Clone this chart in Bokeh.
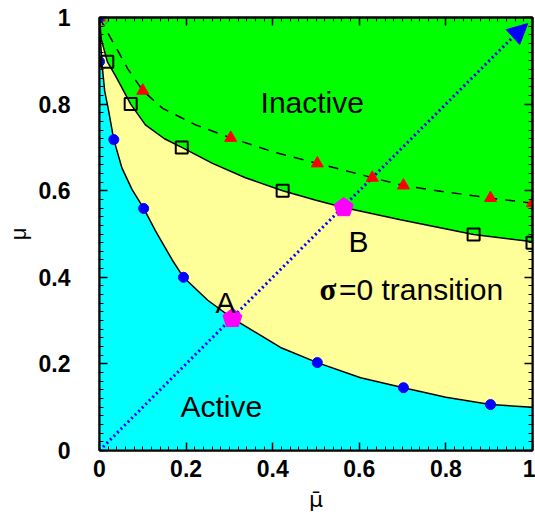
from bokeh.plotting import figure
from bokeh.models import Range1d, LinearAxis, FixedTicker, Label, Arrow, NormalHead
from bokeh.embed import file_html
from bokeh.resources import INLINE
import math

# ---- data ----
upper_x = [0, 0.004, 0.018, 0.037, 0.072, 0.106, 0.15, 0.19, 0.261, 0.337, 0.423, 0.5, 0.564, 0.695, 0.864, 1.0]
upper_y = [1.0, 0.95, 0.898, 0.865, 0.80, 0.752, 0.72, 0.70, 0.663, 0.630, 0.60, 0.578, 0.561, 0.533, 0.499, 0.482]

lower_x = [0, 0.002, 0.006, 0.012, 0.021, 0.033, 0.052, 0.075, 0.102, 0.129, 0.168, 0.194, 0.25, 0.307,
           0.418, 0.503, 0.603, 0.702, 0.80, 0.903, 1.0]
lower_y = [1.0, 0.95, 0.89, 0.83, 0.785, 0.718, 0.652, 0.603, 0.559, 0.508, 0.44, 0.40, 0.347, 0.305,
           0.238, 0.203, 0.168, 0.145, 0.123, 0.106, 0.10]

dashed_x = [0, 0.02, 0.042, 0.065, 0.1, 0.146, 0.222, 0.303, 0.4, 0.503, 0.573, 0.63, 0.702, 0.8, 0.903, 1.0]
dashed_y = [1.0, 0.963, 0.924, 0.882, 0.831, 0.79, 0.752, 0.722, 0.69, 0.663, 0.645, 0.63, 0.612, 0.597, 0.583, 0.571]

dots_x = [0, 0.033, 0.102, 0.194, 0.503, 0.702, 0.903]
dots_y = [0.898, 0.718, 0.559, 0.40, 0.203, 0.145, 0.106]

squares_x = [0.018, 0.072, 0.19, 0.423, 0.864, 1.0]
squares_y = [0.898, 0.80, 0.70, 0.60, 0.499, 0.48]

tri_x = [0, 0.1, 0.303, 0.503, 0.63, 0.702, 0.903, 1.0]
tri_y = [1.0, 0.831, 0.722, 0.663, 0.63, 0.612, 0.583, 0.571]

corner_x = [0.0]
corner_y = [1.0]

pent_x = [0.307, 0.564]
pent_y = [0.305, 0.561]

diag_x = [0.0, 0.975]
diag_y = [0.0, 0.975]
arrow_tip = (0.989, 0.986)

tick_vals = [0, 0.2, 0.4, 0.6, 0.8, 1.0]
tick_labels = ["0", "0.2", "0.4", "0.6", "0.8", "1"]

# ---- figure ----
FONT = "Liberation Sans"
FRAME = 433.0
p = figure(width=535, height=518, x_range=Range1d(0, 1), y_range=Range1d(0, 1),
           output_backend="svg", toolbar_location=None,
           min_border_left=99, min_border_right=3, min_border_top=17, min_border_bottom=68,
           background_fill_color="#00FF00", border_fill_color="white")
p.xgrid.visible = False
p.ygrid.visible = False
p.outline_line_color = "black"
p.outline_line_width = 2

minor = [i * 0.02 for i in range(51)]


def style_axis(ax, labels=True):
    ax.ticker = FixedTicker(ticks=tick_vals, minor_ticks=minor)
    ax.axis_line_width = 2
    ax.axis_line_color = "black"
    ax.major_tick_in = 8
    ax.major_tick_out = 0
    ax.minor_tick_in = 4
    ax.minor_tick_out = 0
    ax.major_tick_line_width = 1.5
    ax.minor_tick_line_width = 1
    if labels:
        ax.major_label_overrides = {v: l for v, l in zip(tick_vals, tick_labels)}
        ax.major_label_text_font = FONT
        ax.major_label_text_font_style = "bold"
        ax.major_label_text_font_size = "23px"
        ax.major_label_text_color = "black"
        ax.axis_label_text_font_style = "normal"
        ax.axis_label_text_color = "black"
    else:
        ax.axis_label = None
        ax.major_label_text_font_size = "1px"
        ax.major_label_text_color = None
        ax.major_label_standoff = 0


xa = p.xaxis[0]
ya = p.yaxis[0]
style_axis(xa)
style_axis(ya)
xa.major_label_standoff = 9
ya.major_label_standoff = 29
xa.axis_label = "\u03bc\u0304"
xa.axis_label_text_font = "DejaVu Sans"
xa.axis_label_text_font_size = "22px"
xa.axis_label_standoff = 7
ya.axis_label = "\u03bc"
ya.axis_label_text_font = FONT
ya.axis_label_text_font_size = "22px"
ya.axis_label_standoff = 5

top = LinearAxis()
right = LinearAxis()
style_axis(top, labels=False)
style_axis(right, labels=False)
p.add_layout(top, "above")
p.add_layout(right, "right")

# ---- regions ----
p.varea(x=upper_x, y1=0, y2=upper_y, fill_color="#FFFF99")
p.varea(x=lower_x, y1=0, y2=lower_y, fill_color="#00FFFF")

# ---- boundary lines ----
p.line(upper_x, upper_y, line_color="black", line_width=1.5)
p.line(lower_x, lower_y, line_color="black", line_width=1.5)
p.line(dashed_x, dashed_y, line_color="black", line_width=1.5, line_dash="10 8")

# ---- diagonal dotted arrow ----
p.line(diag_x, diag_y, line_color="#0000FF", line_width=3, line_dash="2 3")
p.add_layout(Arrow(end=NormalHead(size=20, fill_color="#0000FF", line_color="#0000FF"),
                   x_start=diag_x[1] - 0.02, y_start=diag_y[1] - 0.02,
                   x_end=arrow_tip[0], y_end=arrow_tip[1], line_alpha=0))

# ---- markers ----
p.scatter(dots_x, dots_y, marker="circle", size=10, fill_color="#0000FF", line_color="#0000FF")
p.scatter(squares_x, squares_y, marker="square", size=12, fill_alpha=0, line_color="black", line_width=2)
p.scatter(tri_x, tri_y, marker="triangle", size=12, fill_color="#FF0000", line_color="#FF0000")
p.scatter(corner_x, corner_y, marker="square", size=7, fill_color="#0000FF", line_color="#0000FF")
p.scatter(corner_x, corner_y, marker="circle", size=18, fill_alpha=0, line_color="#666666", line_width=1)

# pentagons (radius given in px, converted to data units of the frame)
r = 10.0 / FRAME
pxs, pys = [], []
for cx, cy in zip(pent_x, pent_y):
    angs = [math.pi / 2 + k * 2 * math.pi / 5 for k in range(5)]
    pxs.append([cx + r * math.cos(a) for a in angs])
    pys.append([cy + r * math.sin(a) for a in angs])
p.patches(pxs, pys, fill_color="#FF00FF", line_color="#FF00FF")

# ---- texts ----
def lab(x, y, t, size="30px", font=FONT, style="normal"):
    p.add_layout(Label(x=x, y=y, text=t, text_font=font, text_font_size=size,
                       text_font_style=style, text_color="black",
                       text_align="left", text_baseline="alphabetic"))

lab(0.372, 0.804, "Inactive")
lab(0.187, 0.1016, "Active")
lab(0.268, 0.342, "A")
lab(0.575, 0.483, "B")
lab(0.508, 0.372, "\u03c3", size="31px", font="Liberation Serif", style="bold")
lab(0.553, 0.372, "=0 transition", size="30px")

open("out.html", "w").write(file_html(p, INLINE))
